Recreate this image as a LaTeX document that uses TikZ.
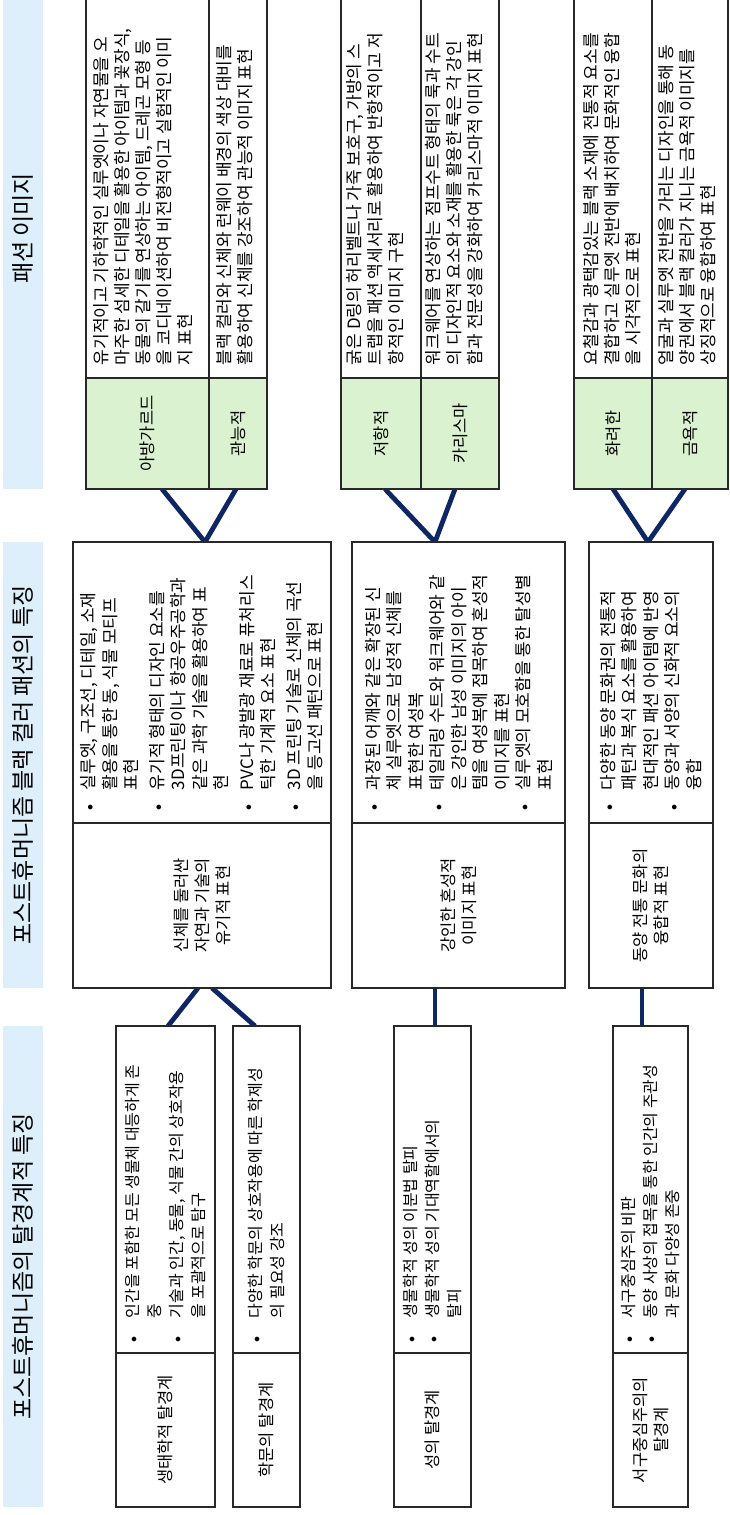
\documentclass[tikz,border=0pt]{standalone}
\usepackage{fontspec}
\setmainfont{Noto Sans CJK KR}
\usetikzlibrary{backgrounds}
\definecolor{hdrblue}{RGB}{220,239,250}
\definecolor{lblgreen}{RGB}{218,242,208}
\definecolor{navy}{RGB}{14,38,100}
\definecolor{bordergray}{RGB}{40,40,40}
\newcommand{\bmid}{\makebox[20pt][l]{\fontsize{12}{12}\selectfont\raisebox{1.5pt}{$\bullet$}}}
\newcommand{\imid}{\hspace*{20pt}}
\newcommand{\bbot}{\makebox[24pt][l]{\fontsize{12}{12}\selectfont\raisebox{1.5pt}{$\bullet$}}}
\newcommand{\ibot}{\hspace*{24pt}}
\begin{document}
\begin{tikzpicture}[x=1pt,y=-1pt,
  frame/.style={draw=bordergray,line width=1.2pt,fill=white,inner sep=0pt,outer sep=0pt},
  greenframe/.style={frame,fill=lblgreen},
  hdrframe/.style={fill=hdrblue,inner sep=0pt,outer sep=0pt},
  vtext/.style={rotate=90,inner sep=0pt,outer sep=0pt},
  hdrtext/.style={vtext,font=\fontsize{23}{28}\selectfont},
  lbltext/.style={vtext,align=center,font=\fontsize{16.5}{21}\selectfont},
  toptext/.style={vtext,align=left,anchor=west,font=\fontsize{17}{21}\selectfont},
  midtext/.style={vtext,align=left,anchor=west,font=\fontsize{17}{21.5}\selectfont},
  bottext/.style={vtext,align=left,anchor=west,font=\fontsize{16}{22}\selectfont},
  conn/.style={draw=navy,line width=4.8pt}]
\useasboundingbox (0,0) rectangle (730,1515);
\begin{pgfonlayer}{background}
\fill[white] (0,0) rectangle (730,1515);
\end{pgfonlayer}

% ---------- headers ----------
\node[hdrframe,minimum width=40pt,minimum height=489pt] (h1) at (23,244.5) {};
\node[hdrtext] (h1t) at ([yshift=16pt]h1.center) {패션 이미지};
\node[hdrframe,minimum width=40pt,minimum height=446pt] (h2) at (23,765) {};
\node[hdrtext] (h2t) at (h2.center) {포스트휴머니즘 블랙 컬러 패션의 특징};
\node[hdrframe,minimum width=40pt,minimum height=481pt] (h3) at (23,1266.5) {};
\node[hdrtext] (h3t) at (h3.center) {포스트휴머니즘의 탈경계적 특징};

% ---------- top row: fashion images ----------
\node[frame,minimum width=123pt,minimum height=380pt] (t1a) at (147.5,188) {};
\node[greenframe,minimum width=123pt,minimum height=111pt] (g1a) at (147.5,433.5) {};
\node[frame,minimum width=58pt,minimum height=380pt] (t1b) at (238,188) {};
\node[greenframe,minimum width=58pt,minimum height=111pt] (g1b) at (238,433.5) {};
\node[frame,minimum width=80pt,minimum height=380pt] (t2a) at (381,188) {};
\node[greenframe,minimum width=80pt,minimum height=111pt] (g2a) at (381,433.5) {};
\node[frame,minimum width=78pt,minimum height=380pt] (t2b) at (460,188) {};
\node[greenframe,minimum width=78pt,minimum height=111pt] (g2b) at (460,433.5) {};
\node[frame,minimum width=78pt,minimum height=380pt] (t3a) at (613,188) {};
\node[greenframe,minimum width=78pt,minimum height=111pt] (g3a) at (613,433.5) {};
\node[frame,minimum width=76pt,minimum height=380pt] (t3b) at (690,188) {};
\node[greenframe,minimum width=76pt,minimum height=111pt] (g3b) at (690,433.5) {};

\node[lbltext] (g1at) at (g1a.center) {아방가르드};
\node[lbltext] (g1bt) at (g1b.center) {관능적};
\node[lbltext] (g2at) at (g2a.center) {저항적};
\node[lbltext] (g2bt) at (g2b.center) {카리스마};
\node[lbltext] (g3at) at (g3a.center) {화려한};
\node[lbltext] (g3bt) at (g3b.center) {금욕적};

\node[toptext] (t1at) at ([xshift=-4pt,yshift=13pt]t1a.south) {유기적이고 기하학적인 실루엣이나 자연물을 오\\마주한 섬세한 디테일을 활용한 아이템과 꽃장식,\\동물의 갈기를 연상하는 아이템, 드레곤 모형 등\\을 코디네이션하여 비전형적이고 실험적인 이미\\지 표현};
\node[toptext] (t1bt) at ([xshift=-3pt,yshift=13pt]t1b.south) {블랙 컬러와 신체와 런웨이 배경의 색상 대비를\\활용하여 신체를 강조하여 관능적 이미지 표현};
\node[toptext] (t2at) at ([xshift=-6pt,yshift=13pt]t2a.south) {굵은 D링의 허리벨트나 가죽 보호구, 가방의 스\\트랩을 패션 액세서리로 활용하여 반항적이고 저\\항적인 이미지 구현};
\node[toptext] (t2bt) at ([xshift=-6pt,yshift=13pt]t2b.south) {워크웨어를 연상하는 점프수트 형태의 룩과 수트\\의 디자인적 요소와 소재를 활용한 룩은 각 강인\\함과 전문성을 강화하여 카리스마적 이미지 표현};
\node[toptext] (t3at) at ([xshift=-1pt,yshift=13pt]t3a.south) {요철감과 광택감있는 블랙 소재에 전통적 요소를\\결합하고 실루엣 전반에 배치하여 문화적인 융합\\을 시각적으로 표현};
\node[toptext] (t3bt) at ([xshift=-3pt,yshift=13pt]t3b.south) {얼굴과 실루엣 전반을 가리는 디자인을 통해 동\\양권에서 블랙 컬러가 지니는 금욕적 이미지를\\상징적으로 융합하여 표현};

% ---------- middle row ----------
\node[frame,minimum width=258pt,minimum height=281pt] (m1b) at (202,682.5) {};
\node[frame,minimum width=258pt,minimum height=165pt] (m1t) at (202,905.5) {};
\node[frame,minimum width=213pt,minimum height=281pt] (m2b) at (458.5,682.5) {};
\node[frame,minimum width=213pt,minimum height=165pt] (m2t) at (458.5,905.5) {};
\node[frame,minimum width=124pt,minimum height=281pt] (m3b) at (651,682.5) {};
\node[frame,minimum width=124pt,minimum height=165pt] (m3t) at (651,905.5) {};

\node[lbltext] (m1tt) at (m1t.center) {신체를 둘러싼\\자연과 기술의\\유기적 표현};
\node[lbltext] (m2tt) at (m2t.center) {강인한 혼성적\\이미지 표현};
\node[lbltext] (m3tt) at (m3t.center) {동양 전통 문화의\\융합적 표현};

\node[midtext] (m1bt) at ([yshift=13pt]m1b.south) {\bmid 실루엣, 구조선, 디테일, 소재\\\imid 활용을 통한 동, 식물 모티프\\\imid 표현\\[4pt]\bmid 유기적 형태의 디자인 요소를\\\imid 3D프린팅이나 항공우주공학과\\\imid 같은 과학 기술을 활용하여 표\\\imid 현\\[4pt]\bmid PVC나 광발광 재료로 퓨처리스\\\imid 틱한 기계적 요소 표현\\[4pt]\bmid 3D 프린팅 기술로 신체의 곡선\\\imid 을 등고선 패턴으로 표현};
\node[midtext] (m2bt) at ([yshift=13pt]m2b.south) {\bmid 과장된 어깨와 같은 확장된 신\\\imid 체 실루엣으로 남성적 신체를\\\imid 표현한 여성복\\\bmid 테일러링 수트와 워크웨어와 같\\\imid 은 강인한 남성 이미지의 아이\\\imid 템을 여성복에 접목하여 혼성적\\\imid 이미지를 표현\\\bmid 실루엣의 모호함을 통한 탈성별\\\imid 표현};
\node[midtext] (m3bt) at ([yshift=13pt]m3b.south) {\bmid 다양한 동양 문화권의 전통적\\\imid 패턴과 복식 요소를 활용하여\\\imid 현대적인 패션 아이템에 반영\\\bmid 동양과 서양의 신화적 요소의\\\imid 융합};

% ---------- bottom row ----------
\node[frame,minimum width=99pt,minimum height=327pt] (b1ab) at (165.5,1189.5) {};
\node[frame,minimum width=99pt,minimum height=154pt] (b1at) at (165.5,1430) {};
\node[frame,minimum width=67pt,minimum height=327pt] (b1bb) at (266.5,1189.5) {};
\node[frame,minimum width=67pt,minimum height=154pt] (b1bt) at (266.5,1430) {};
\node[frame,minimum width=77pt,minimum height=327pt] (b2b) at (432.5,1189.5) {};
\node[frame,minimum width=77pt,minimum height=154pt] (b2t) at (432.5,1430) {};
\node[frame,minimum width=75pt,minimum height=327pt] (b3b) at (650.5,1189.5) {};
\node[frame,minimum width=75pt,minimum height=154pt] (b3t) at (650.5,1430) {};

\node[lbltext] (b1att) at (b1at.center) {생태학적 탈경계};
\node[lbltext] (b1btt) at (b1bt.center) {학문의 탈경계};
\node[lbltext] (b2tt) at (b2t.center) {성의 탈경계};
\node[lbltext] (b3tt) at (b3t.center) {서구중심주의의\\탈경계};

\node[bottext] (b1abt) at ([yshift=11pt]b1ab.south) {\bbot 인간을 포함한 모든 생물체 대등하게 존\\\ibot 중\\\bbot 기술과 인간, 동물, 식물 간의 상호작용\\\ibot 을 포괄적으로 탐구};
\node[bottext] (b1bbt) at ([yshift=11pt]b1bb.south) {\bbot 다양한 학문의 상호작용에 따른 학제성\\\ibot 의 필요성 강조};
\node[bottext] (b2bt) at ([yshift=11pt]b2b.south) {\bbot 생물학적 성의 이분법 탈피\\\bbot 생물학적 성의 기대역할에서의\\\ibot 탈피};
\node[bottext] (b3bt) at ([yshift=11pt]b3b.south) {\bbot 서구중심주의 비판\\\bbot 동양 사상의 접목을 통한 인간의 주관성\\\ibot 과 문화 다양성 존중};

% ---------- connectors ----------
\begin{pgfonlayer}{background}
\draw[conn] ([xshift=14.5pt]g1a.south) -- ([xshift=3pt]m1b.north);
\draw[conn] ([xshift=-2pt]g1b.south) -- ([xshift=3pt]m1b.north);
\draw[conn] ([xshift=4pt]g2a.south) -- ([xshift=-23.5pt]m2b.north);
\draw[conn] ([xshift=-5pt]g2b.south) -- ([xshift=-23.5pt]m2b.north);
\draw[conn] (g3a.south) -- ([xshift=-3pt]m3b.north);
\draw[conn] ([xshift=-5pt]g3b.south) -- ([xshift=-3pt]m3b.north);
\draw[conn] ([xshift=-4pt]m1t.south) -- ([xshift=2.5pt]b1ab.north);
\draw[conn] ([xshift=10pt]m1t.south) -- ([xshift=-11.5pt]b1bb.north);
\draw[conn] ([xshift=-23.5pt]m2t.south) -- ([xshift=2.5pt]b2b.north);
\draw[conn] ([xshift=-9pt]m3t.south) -- ([xshift=-8.5pt]b3b.north);
\end{pgfonlayer}
\end{tikzpicture}
\end{document}
